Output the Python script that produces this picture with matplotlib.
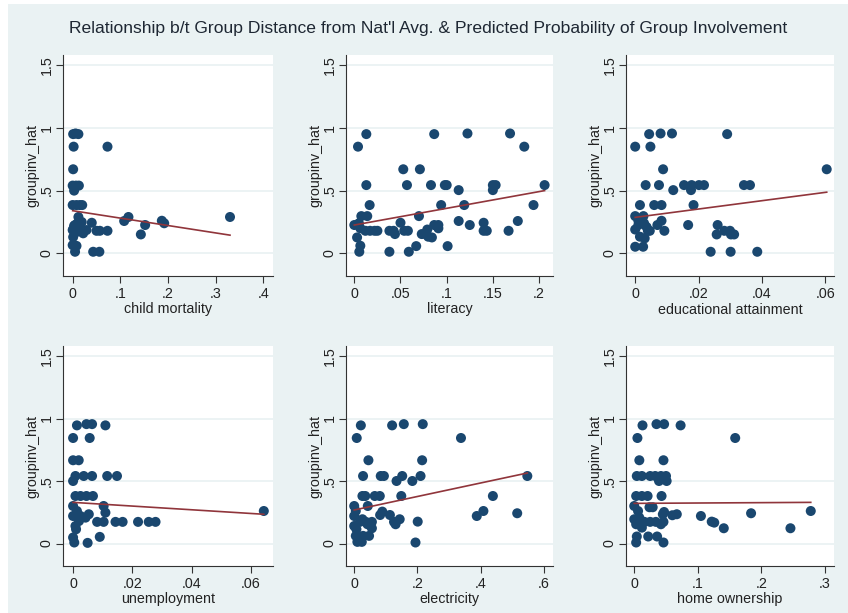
"""Six-panel scatter of predicted group involvement vs. distance from national average."""
import matplotlib

matplotlib.use("Agg")
import matplotlib.pyplot as plt  # noqa: E402
import numpy as np  # noqa: E402
from matplotlib.patches import Rectangle  # noqa: E402

plt.rcParams["font.family"] = ["Liberation Sans", "DejaVu Sans"]

TITLE = ("Relationship b/t Group Distance from Nat'l Avg. & "
         "Predicted Probability of Group Involvement")
Y_LABEL = "groupinv_hat"

# ---- data (x = distance, y = groupinv_hat) ----
child_mortality_x = [0.001, 0.006, 0.012, 0.002, 0.001, 0.0, 0.007, 0.013, 0.003,
                     0.0, 0.008, 0.015, 0.02, 0.073, 0.04, 0.05, 0.057, 0.073,
                     0.043, 0.056, 0.108, 0.117, 0.143, 0.152, 0.187, 0.192, 0.33,
                     0.0, 0.005, 0.008, 0.0, 0.001, 0.005, 0.012, 0.015, 0.022,
                     0.029, 0.008, 0.019, 0.003, 0.01, 0.002]
child_mortality_y = [0.95, 0.955, 0.95, 0.85, 0.67, 0.54, 0.54, 0.54, 0.5,
                     0.385, 0.385, 0.385, 0.385, 0.85, 0.244, 0.18, 0.18, 0.18,
                     0.013, 0.013, 0.258, 0.29, 0.151, 0.226, 0.26, 0.24, 0.29,
                     0.066, 0.013, 0.06, 0.186, 0.13, 0.226, 0.29, 0.21, 0.16,
                     0.186, 0.17, 0.25, 0.22, 0.24, 0.2]
child_mortality_fit = (0.34, -0.59)  # intercept, slope

literacy_x = [0.004, 0.013, 0.013, 0.0166, 0.014, 0.0076, 0.0, 0.005, 0.0065,
              0.003, 0.0065, 0.0054, 0.012, 0.017, 0.022, 0.025, 0.038, 0.038,
              0.0425, 0.044, 0.05, 0.053, 0.057, 0.054, 0.058, 0.059, 0.067,
              0.07, 0.071, 0.073, 0.077, 0.079, 0.08, 0.084, 0.083, 0.0865,
              0.0865, 0.091, 0.091, 0.094, 0.098, 0.1, 0.101, 0.113, 0.113,
              0.119, 0.1225, 0.125, 0.14, 0.14, 0.1434, 0.15, 0.15, 0.153,
              0.167, 0.1686, 0.177, 0.184, 0.194, 0.206]
literacy_y = [0.85, 0.95, 0.544, 0.385, 0.297, 0.297, 0.226, 0.24, 0.2,
              0.127, 0.061, 0.013, 0.18, 0.18, 0.18, 0.18, 0.013, 0.18,
              0.18, 0.154, 0.244, 0.67, 0.544, 0.18, 0.18, 0.013, 0.058,
              0.297, 0.67, 0.154, 0.154, 0.19, 0.133, 0.127, 0.544, 0.95,
              0.226, 0.226, 0.2, 0.385, 0.544, 0.544, 0.058, 0.504, 0.258,
              0.385, 0.955, 0.226, 0.244, 0.18, 0.18, 0.504, 0.544, 0.544,
              0.18, 0.955, 0.258, 0.85, 0.385, 0.544]
literacy_fit = (0.226, 1.33)

education_x = [0.0, 0.0044, 0.0048, 0.008, 0.0116, 0.0088, 0.0033, 0.0075, 0.012,
               0.0154, 0.0178, 0.0176, 0.0201, 0.0217, 0.0015, 0.006, 0.0083,
               0.0184, 0.0343, 0.0362, 0.029, 0.0604, 0.0083, 0.007, 0.0092,
               0.0167, 0.026, 0.0257, 0.0281, 0.0299, 0.0302, 0.0312, 0.0238,
               0.0301, 0.0385, 0.0, 0.0026, 0.0, 0.001, 0.0015, 0.0025, 0.0,
               0.003, 0.004, 0.002, 0.0036, 0.0046, 0.001, 0.0028]
education_y = [0.85, 0.95, 0.85, 0.955, 0.955, 0.67, 0.544, 0.544, 0.504,
               0.544, 0.544, 0.504, 0.544, 0.544, 0.385, 0.385, 0.385,
               0.385, 0.544, 0.544, 0.95, 0.67, 0.26, 0.226, 0.18,
               0.226, 0.226, 0.151, 0.18, 0.18, 0.151, 0.151, 0.013,
               0.013, 0.013, 0.297, 0.297, 0.19, 0.226, 0.133, 0.053, 0.053,
               0.12, 0.18, 0.25, 0.21, 0.18, 0.26, 0.24]
education_fit = (0.287, 3.32)

unemployment_x = [0.0013, 0.0045, 0.0064, 0.0109, 0.0, 0.0056, 0.0, 0.0019, 0.0,
                  0.0008, 0.0036, 0.0064, 0.0115, 0.0148, 0.0008, 0.0025, 0.0045,
                  0.0067, 0.0103, 0.0109, 0.0643, 0.0042, 0.0053, 0.0081, 0.0103,
                  0.0143, 0.0167, 0.0219, 0.0255, 0.0278, 0.009, 0.0049, 0.0,
                  0.0, 0.0008, 0.0, 0.0004, 0.002, 0.0013, 0.0025, 0.001]
unemployment_y = [0.945, 0.955, 0.955, 0.945, 0.844, 0.844, 0.666, 0.666, 0.5,
                  0.54, 0.54, 0.54, 0.54, 0.54, 0.38, 0.38, 0.38,
                  0.38, 0.3, 0.247, 0.26, 0.207, 0.234, 0.173, 0.173,
                  0.173, 0.173, 0.173, 0.173, 0.173, 0.053, 0.005, 0.3,
                  0.22, 0.14, 0.048, 0.008, 0.18, 0.26, 0.22, 0.114]
unemployment_fit = (0.329, -1.48)

electricity_x = [0.021, 0.008, 0.045, 0.028, 0.026, 0.035, 0.043, 0.0, 0.12,
                 0.157, 0.217, 0.338, 0.215, 0.084, 0.094, 0.152, 0.21, 0.134,
                 0.184, 0.065, 0.081, 0.149, 0.089, 0.082, 0.113, 0.126, 0.131,
                 0.144, 0.201, 0.194, 0.388, 0.409, 0.439, 0.516, 0.548, 0.0,
                 0.005, 0.0, 0.005, 0.01, 0.024, 0.018, 0.037, 0.056, 0.056,
                 0.047, 0.028, 0.007, 0.026, 0.042]
electricity_y = [0.945, 0.844, 0.666, 0.54, 0.38, 0.38, 0.3, 0.3, 0.945,
                 0.955, 0.955, 0.844, 0.666, 0.54, 0.54, 0.54, 0.54, 0.5,
                 0.5, 0.38, 0.38, 0.38, 0.255, 0.228, 0.228, 0.173, 0.154,
                 0.194, 0.175, 0.008, 0.22, 0.26, 0.38, 0.242, 0.54, 0.22,
                 0.26, 0.14, 0.061, 0.013, 0.013, 0.173, 0.173, 0.173, 0.122,
                 0.061, 0.061, 0.114, 0.194, 0.154]
electricity_fit = (0.268, 0.54)

home_x = [0.013, 0.035, 0.047, 0.073, 0.005, 0.159, 0.008, 0.046, 0.004, 0.012,
          0.025, 0.033, 0.042, 0.05, 0.039, 0.051, 0.003, 0.012, 0.021, 0.043,
          0.024, 0.029, 0.0, 0.006, 0.047, 0.045, 0.06, 0.067, 0.105, 0.122,
          0.126, 0.141, 0.184, 0.246, 0.278, 0.022, 0.036, 0.046, 0.003, 0.004,
          0.0, 0.003, 0.012, 0.016, 0.025, 0.034, 0.042, 0.046, 0.008]
home_y = [0.945, 0.955, 0.955, 0.945, 0.844, 0.844, 0.666, 0.666, 0.54, 0.54,
          0.54, 0.54, 0.54, 0.54, 0.5, 0.5, 0.38, 0.38, 0.38, 0.38,
          0.29, 0.29, 0.3, 0.26, 0.252, 0.234, 0.226, 0.234, 0.22, 0.175,
          0.167, 0.122, 0.242, 0.122, 0.26, 0.056, 0.056, 0.008, 0.008, 0.056,
          0.194, 0.154, 0.127, 0.173, 0.173, 0.173, 0.154, 0.173, 0.207]
home_fit = (0.321, 0.029)

panels = [
    ("child mortality", child_mortality_x, child_mortality_y, child_mortality_fit,
     [0, 0.1, 0.2, 0.3, 0.4], ["0", ".1", ".2", ".3", ".4"], (-0.0203, 0.4202)),
    ("literacy", literacy_x, literacy_y, literacy_fit,
     [0, 0.05, 0.1, 0.15, 0.2], ["0", ".05", ".1", ".15", ".2"], (-0.009, 0.2151)),
    ("educational attainment", education_x, education_y, education_fit,
     [0, 0.02, 0.04, 0.06], ["0", ".02", ".04", ".06"], (-0.0029, 0.0627)),
    ("unemployment", unemployment_x, unemployment_y, unemployment_fit,
     [0, 0.02, 0.04, 0.06], ["0", ".02", ".04", ".06"], (-0.0034, 0.0674)),
    ("electricity", electricity_x, electricity_y, electricity_fit,
     [0, 0.2, 0.4, 0.6], ["0", ".2", ".4", ".6"], (-0.026, 0.6293)),
    ("home ownership", home_x, home_y, home_fit,
     [0, 0.1, 0.2, 0.3], ["0", ".1", ".2", ".3"], (-0.013, 0.3146)),
]
y_ticks = [0, 0.5, 1, 1.5]
y_tick_labels = ["0", ".5", "1", "1.5"]

W, H = 848, 613
BG = "#eaf2f3"
NAVY = "#1a476f"
MAROON = "#90353b"
AXIS = "#333333"
TXT = "#222222"
FS = 10.3

fig = plt.figure(figsize=(W / 100, H / 100), dpi=100, facecolor="white")
fig.patches.append(Rectangle((8 / W, 0), 1, 1 - 4 / H, transform=fig.transFigure,
                             facecolor=BG, edgecolor="none", zorder=-10))
fig.text(428 / W, 1 - 28 / H, TITLE, ha="center", va="center",
         fontsize=12.6, color="#1e2733")

# axes boxes in pixels: (left, right) per column, (top, bottom) per row
cols = [(63, 273), (346, 553), (626, 834)]
rows = [(55, 276), (346, 566)]

for i, (name, xs, ys, fit, xt, xtl, xlim) in enumerate(panels):
    (l, r), (t, b) = cols[i % 3], rows[i // 3]
    ax = fig.add_axes([l / W, 1 - b / H, (r - l) / W, (b - t) / H])
    ax.set_facecolor("white")
    for yv in y_ticks:
        ax.axhline(yv, color=BG, lw=1.3, zorder=0)
    ax.scatter(xs, ys, s=52, color=NAVY, edgecolors="none", zorder=2)
    fx = np.array([min(xs), max(xs)])
    ax.plot(fx, fit[0] + fit[1] * fx, color=MAROON, lw=1.2, zorder=3)

    ax.set_xlim(*xlim)
    ax.set_ylim(-0.18, 1.58)
    ax.set_xticks(xt)
    ax.set_xticklabels(xtl)
    ax.set_yticks(y_ticks)
    ax.set_yticklabels(y_tick_labels, rotation=90, va="center")
    ax.tick_params(direction="out", length=5, width=0.8, color=AXIS,
                   labelsize=FS, labelcolor=TXT, pad=3)
    ax.tick_params(axis="y", pad=1.5)
    for side in ("top", "right"):
        ax.spines[side].set_visible(False)
    for side in ("left", "bottom"):
        ax.spines[side].set_color(AXIS)
        ax.spines[side].set_linewidth(0.8)
    ax.set_xlabel(name, fontsize=FS, color=TXT, labelpad=1)
    ax.set_ylabel(Y_LABEL, fontsize=FS, color=TXT, labelpad=0.5)

fig.savefig("out.png", dpi=100, facecolor=fig.get_facecolor())
